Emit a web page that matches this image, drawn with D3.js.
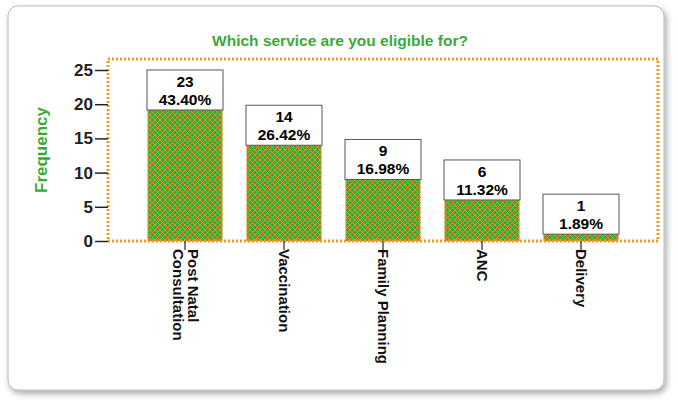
<!DOCTYPE html><html><head><script src="https://cdn.jsdelivr.net/npm/d3@7"></script>
<style>body{margin:0;background:#fff}</style></head><body><svg id="c" width="678" height="407"></svg>
<script>
const categories=["Post Natal|Consultation","Vaccination","Family Planning","ANC","Delivery"];
const counts=[23,14,9,6,1];
const percents=["43.40%","26.42%","16.98%","11.32%","1.89%"];
const yTicks=[0,5,10,15,20,25];
const svg=d3.select("#c");
const defs=svg.append("defs");
const f=defs.append("filter").attr("id","sh").attr("x","-5%").attr("y","-5%").attr("width","110%").attr("height","115%");
f.append("feDropShadow").attr("dx",2).attr("dy",3).attr("stdDeviation",3).attr("flood-color","#000").attr("flood-opacity",0.35);
const p=defs.append("pattern").attr("id","hatch").attr("width",5).attr("height",5).attr("patternUnits","userSpaceOnUse");
p.append("rect").attr("width",5).attr("height",5).attr("fill","#3aaa35");
p.append("path").attr("d","M0,0L5,5M5,0L0,5").attr("stroke","#e8922a").attr("stroke-width",0.9);
svg.append("rect").attr("x",8).attr("y",6).attr("width",656).attr("height",384).attr("rx",10).attr("fill","#fff").attr("stroke","#bbb").attr("filter","url(#sh)");
const y=d3.scaleLinear().domain([0,25]).range([241,70]);
const x=d3.scaleBand().domain(categories).range([135.5,630.5]).paddingInner(0.25).paddingOuter(0.125);
svg.append("text").attr("x",340).attr("y",46).attr("text-anchor","middle").attr("fill","#3aaa35").attr("font-family","Liberation Sans, Arial").attr("font-weight","bold").attr("font-size",15.5).text("Which service are you eligible for?");
svg.selectAll(".bar").data(counts).enter().append("rect").attr("x",(d,i)=>x(categories[i])).attr("width",x.bandwidth()).attr("y",d=>y(d)).attr("height",d=>241-y(d)).attr("fill","url(#hatch)").attr("stroke","#e8922a").attr("stroke-width",0.8);
svg.append("rect").attr("x",108).attr("y",59).attr("width",550).attr("height",182).attr("fill","none").attr("stroke","#f39a1e").attr("stroke-width",3).attr("stroke-dasharray","2,2");
counts.forEach((d,i)=>{const cx=x(categories[i])+x.bandwidth()/2;const bw=76,bh=40;let top=Math.max(y(d)-bh,70);
const g=svg.append("g");g.append("rect").attr("x",cx-bw/2).attr("y",top).attr("width",bw).attr("height",bh).attr("fill","#fff").attr("stroke","#555").attr("stroke-width",1);
g.append("text").attr("x",cx).attr("y",top+17).attr("text-anchor","middle").attr("font-family","Liberation Sans, Arial").attr("font-weight","bold").attr("font-size",15.5).text(d);
g.append("text").attr("x",cx).attr("y",top+35).attr("text-anchor","middle").attr("font-family","Liberation Sans, Arial").attr("font-weight","bold").attr("font-size",15.5).text(percents[i]);});
const ya=svg.append("g").attr("transform","translate(108,0)").call(d3.axisLeft(y).tickValues(yTicks).tickSize(13).tickPadding(2));
ya.select(".domain").remove();ya.selectAll("line").attr("stroke","#222").attr("stroke-width",1.5);
ya.selectAll("text").attr("font-family","Liberation Sans, Arial").attr("font-weight","bold").attr("font-size",17).attr("fill","#222");
svg.append("text").attr("transform","translate(47,150) rotate(-90)").attr("text-anchor","middle").attr("fill","#3aaa35").attr("font-family","Liberation Sans, Arial").attr("font-weight","bold").attr("font-size",17).text("Frequency");
categories.forEach(c=>{const cx=x(c)+x.bandwidth()/2;
svg.append("line").attr("x1",cx).attr("x2",cx).attr("y1",241).attr("y2",250).attr("stroke","#222").attr("stroke-width",1.2);
const lines=c.split("|");const t=svg.append("text").attr("transform",`translate(${cx},249) rotate(90)`).attr("font-family","Liberation Sans Narrow, Liberation Sans").attr("font-weight","bold").attr("font-size",15).attr("fill","#111");
lines.forEach((l,j)=>t.append("tspan").attr("x",0).attr("y",(j-(lines.length-1)/2)*15+5).text(l));});
</script></body></html>
